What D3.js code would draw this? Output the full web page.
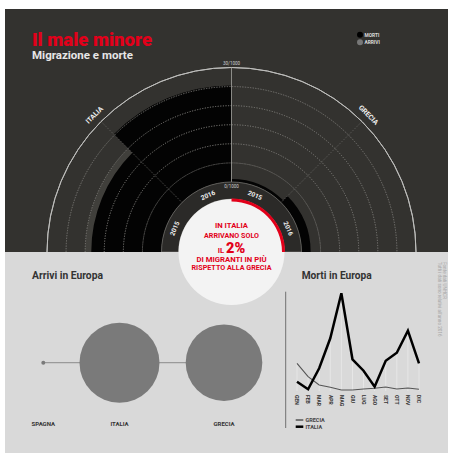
<!DOCTYPE html>
<html><head><meta charset="utf-8">
<script src="https://cdn.jsdelivr.net/npm/d3@7"></script>
<style>body{margin:0;background:#fff;} svg{display:block;font-family:Roboto,"Open Sans",sans-serif;}</style>
</head><body><svg id="c" width="449" height="455"></svg>
<script>
// ---------- DATA ----------
const polarCountries = ["ITALIA", "GRECIA"];
const polarYears = ["2015", "2016"];
const mortiItalia = [18.4, 25.3];   // morti per 1000
const mortiGrecia = [0.8, 2.4];
const arriviItalia = [20.0, 24.0];
const arriviGrecia = [0.4, 1.5];
const polarTicks = [5, 10, 15, 20, 25, 30];
const polarTickLabels = ["0/1000", "30/1000"];

const bubbleCountries = ["SPAGNA", "ITALIA", "GRECIA"];
const bubbleValues = [450, 181000, 166000];

const months = ["GEN","FEB","MAR","APR","MAG","GIU","LUG","AGO","SET","OTT","NOV","DIC"];
const deathsItalia = [93, 17, 227, 527, 977, 317, 203, 43, 303, 383, 603, 277];
const deathsGrecia = [277, 143, 60, 37, 10, 10, 20, 27, 40, 20, 30, 17];

const legendItems = ["MORTI", "ARRIVI"];
const centerText = ["IN ITALIA", "ARRIVANO SOLO", "IL", "2%", "DI MIGRANTI IN PIÙ", "RISPETTO ALLA GRECIA"];
const noteLines = ["Fonte dati UNHCR", "Tutti i dati sono relativi all'anno 2016"];

// ---------- DRAW ----------
const svg = d3.select("#c");
const RED = "#e2001a";
const DARK = "#33322f";
const LIGHT = "#d9d9d9";

svg.append("rect").attr("width", 449).attr("height", 455).attr("fill", "#fff");
svg.append("rect").attr("x", 5).attr("y", 9).attr("width", 443).attr("height", 243).attr("fill", DARK);
svg.append("rect").attr("x", 5).attr("y", 252).attr("width", 443).attr("height", 201).attr("fill", LIGHT);

// title
svg.append("text").attr("x", 32).attr("y", 45.5).text("Il male minore")
  .attr("font-size", 18).attr("font-weight", 900).attr("fill", RED)
  .attr("textLength", 120).attr("lengthAdjust", "spacingAndGlyphs");
svg.append("text").attr("x", 32).attr("y", 59).text("Migrazione e morte")
  .attr("font-size", 11.5).attr("font-weight", 700).attr("fill", "#e6e6e6")
  .attr("textLength", 101).attr("lengthAdjust", "spacingAndGlyphs");

// legend
const legColor = d3.scaleOrdinal().domain(legendItems).range(["#000", "#777"]);
const legY = d3.scalePoint().domain(legendItems).range([34.7, 42.3]);
const leg = svg.append("g");
leg.selectAll("circle").data(legendItems).join("circle")
  .attr("cx", 360).attr("cy", d => legY(d)).attr("r", 3).attr("fill", d => legColor(d));
leg.selectAll("text").data(legendItems).join("text")
  .attr("x", 364.5).attr("y", d => legY(d) + 1.8).text(d => d)
  .attr("font-size", 4.8).attr("font-weight", 700).attr("fill", "#ddd");

// ---------- POLAR ----------
const cx = 231.5, cy = 252;
const clip = svg.append("clipPath").attr("id", "top");
clip.append("rect").attr("x", -250).attr("y", -250).attr("width", 500).attr("height", 250);
const pg = svg.append("g").attr("transform", `translate(${cx},${cy})`);
const pc = pg.append("g").attr("clip-path", "url(#top)");

const r = d3.scaleLinear().domain([0, 30]).range([70, 184.5]);
const combos = [];
polarCountries.forEach((c, i) => polarYears.forEach((y, j) => combos.push({
  key: c + y, country: c, year: y,
  morti: (i === 0 ? mortiItalia : mortiGrecia)[j],
  arrivi: (i === 0 ? arriviItalia : arriviGrecia)[j]
})));
const ang = d3.scaleBand().domain(combos.map(d => d.key)).range([-Math.PI / 2, Math.PI / 2]);
const arc = d3.arc();

pc.selectAll("path.arr").data(combos).join("path").attr("class", "arr")
  .attr("d", d => arc({innerRadius: r(0), outerRadius: r(d.arrivi), startAngle: ang(d.key), endAngle: ang(d.key) + ang.bandwidth()}))
  .attr("fill", "#403f3b");
pc.selectAll("path.mor").data(combos).join("path").attr("class", "mor")
  .attr("d", d => arc({innerRadius: r(0), outerRadius: r(d.morti), startAngle: ang(d.key), endAngle: ang(d.key) + ang.bandwidth()}))
  .attr("fill", "#030303");

pc.selectAll("path.grid").data(polarTicks).join("path").attr("class", "grid")
  .attr("d", t => arc({innerRadius: r(t), outerRadius: r(t), startAngle: -Math.PI / 2, endAngle: Math.PI / 2}))
  .attr("fill", "none")
  .attr("stroke", t => t === 30 ? "#bdbdbb" : "#7c7b78")
  .attr("stroke-width", t => t === 30 ? 1 : 0.7)
  .attr("stroke-dasharray", t => t === 30 ? null : "1,1.6");

const radials = [-Math.PI / 4, 0, Math.PI / 4];
pc.selectAll("line.rad").data(radials).join("line").attr("class", "rad")
  .attr("x1", a => Math.sin(a) * r(0)).attr("y1", a => -Math.cos(a) * r(0))
  .attr("x2", a => Math.sin(a) * r(30)).attr("y2", a => -Math.cos(a) * r(30))
  .attr("stroke", a => a === 0 ? "#a5a4a1" : "#7c7b78")
  .attr("stroke-width", a => a === 0 ? 0.8 : 0.7)
  .attr("stroke-dasharray", a => a === 0 ? null : "1,1.6");

pc.append("path")
  .attr("d", arc({innerRadius: 53, outerRadius: r(0), startAngle: -Math.PI / 2, endAngle: Math.PI / 2}))
  .attr("fill", "#2b2a28").attr("stroke", "#6e6d6a").attr("stroke-width", 0.8);
pg.selectAll("text.yr").data(combos).join("text").attr("class", "yr")
  .attr("transform", d => `rotate(${(ang(d.key) + ang.bandwidth() / 2) * 180 / Math.PI}) translate(0,-61.5)`)
  .attr("text-anchor", "middle").attr("dy", "0.35em")
  .attr("font-size", 6.5).attr("font-weight", 700).attr("fill", "#f0f0f0").text(d => d.year);

pg.append("text").attr("x", 0).attr("y", -r(0) + 5.5).attr("text-anchor", "middle")
  .attr("font-size", 4.5).attr("fill", "#cfcfcf").text(polarTickLabels[0]);
pg.append("text").attr("x", 0).attr("y", -r(30) - 3).attr("text-anchor", "middle")
  .attr("font-size", 4.5).attr("fill", "#cfcfcf").text(polarTickLabels[1]);

const cAng = d3.scalePoint().domain(polarCountries).range([-45, 45]);
pg.selectAll("text.cty").data(polarCountries).join("text").attr("class", "cty")
  .attr("transform", d => `rotate(${cAng(d)}) translate(0,${-r(30) - 7})`)
  .attr("text-anchor", "middle").attr("font-size", 7).attr("font-weight", 700)
  .attr("fill", "#f0f0f0").text(d => d);

// ---------- BUBBLES ----------
const bx = d3.scaleOrdinal().domain(bubbleCountries).range([43.3, 119.5, 224]);
const br = d3.scaleSqrt().domain([0, d3.max(bubbleValues)]).range([0, 40]);
const by = 362.7;
svg.append("line").attr("x1", bx("SPAGNA")).attr("x2", bx("GRECIA")).attr("y1", by).attr("y2", by)
  .attr("stroke", "#9a9a9a").attr("stroke-width", 1.3);
svg.selectAll("circle.bub").data(bubbleCountries).join("circle").attr("class", "bub")
  .attr("cx", d => bx(d)).attr("cy", by)
  .attr("r", (d, i) => Math.max(br(bubbleValues[i]), 1.5)).attr("fill", "#7a7a7a");
svg.selectAll("text.bl").data(bubbleCountries).join("text").attr("class", "bl")
  .attr("x", d => bx(d)).attr("y", 425.5).attr("text-anchor", "middle")
  .attr("font-size", 6).attr("font-weight", 700).attr("fill", "#333").text(d => d);
svg.append("text").attr("x", 32).attr("y", 278.5).text("Arrivi in Europa")
  .attr("font-size", 10.5).attr("font-weight", 700).attr("fill", "#333")
  .attr("textLength", 71).attr("lengthAdjust", "spacingAndGlyphs");

// ---------- LINE CHART ----------
svg.append("text").attr("x", 301.7).attr("y", 278.5).text("Morti in Europa")
  .attr("font-size", 10.5).attr("font-weight", 700).attr("fill", "#333")
  .attr("textLength", 70).attr("lengthAdjust", "spacingAndGlyphs");
svg.append("line").attr("x1", 285.7).attr("x2", 285.7).attr("y1", 291.7).attr("y2", 428)
  .attr("stroke", "#707070").attr("stroke-width", 1);
const x = d3.scalePoint().domain(months).range([297, 419]);
const y = d3.scaleLinear().domain([0, 1000]).range([391, 291]);
svg.selectAll("line.vg").data(months).join("line").attr("class", "vg")
  .attr("x1", d => x(d)).attr("x2", d => x(d)).attr("y1", y(0))
  .attr("y2", (d, i) => y(Math.max(deathsItalia[i], deathsGrecia[i])))
  .attr("stroke", "#fff").attr("stroke-opacity", 0.6).attr("stroke-width", 0.6);
const line = d3.line().x((d, i) => x(months[i])).y(d => y(d));
svg.append("path").attr("d", line(deathsGrecia)).attr("fill", "none")
  .attr("stroke", "#555").attr("stroke-width", 1.1);
svg.append("path").attr("d", line(deathsItalia)).attr("fill", "none")
  .attr("stroke", "#000").attr("stroke-width", 2.5).attr("stroke-linejoin", "miter");
svg.selectAll("text.mo").data(months).join("text").attr("class", "mo")
  .attr("transform", d => `translate(${x(d)},395) rotate(90)`)
  .attr("dy", "0.35em").attr("font-size", 5).attr("font-weight", 700).attr("fill", "#333").text(d => d);
const lItems = [{n: "GRECIA", c: "#555", w: 1.5}, {n: "ITALIA", c: "#000", w: 2.5}];
const ly = d3.scalePoint().domain(lItems.map(d => d.n)).range([420, 426.7]);
svg.selectAll("line.lg").data(lItems).join("line").attr("class", "lg")
  .attr("x1", 295.7).attr("x2", 303.3).attr("y1", d => ly(d.n)).attr("y2", d => ly(d.n))
  .attr("stroke", d => d.c).attr("stroke-width", d => d.w);
svg.selectAll("text.lg").data(lItems).join("text").attr("class", "lg")
  .attr("x", 305.5).attr("y", d => ly(d.n) + 2).attr("font-size", 5.5).attr("font-weight", 700)
  .attr("fill", "#444").text(d => d.n);

svg.selectAll("text.note").data(noteLines).join("text").attr("class", "note")
  .attr("transform", (d, i) => `translate(${443 - i * 5.5},262) rotate(90)`)
  .attr("font-size", 4.6).attr("fill", "#a8a8a8").text(d => d);

// ---------- CENTER DISK ----------
const cg = svg.append("g").attr("transform", `translate(${cx},${cy})`);
cg.append("circle").attr("r", 53).attr("fill", "#f3f3f3");
cg.append("path").attr("d", arc({innerRadius: 50.5, outerRadius: 53.5, startAngle: 0, endAngle: Math.PI / 2}))
  .attr("fill", RED);
const tt = cg.append("g").attr("fill", RED).attr("font-weight", 700).attr("text-anchor", "middle");
tt.append("text").attr("y", -24.5).attr("font-size", 7.6).text(centerText[0])
  .attr("textLength", 33).attr("lengthAdjust", "spacingAndGlyphs");
tt.append("text").attr("y", -13.7).attr("font-size", 7.6).text(centerText[1])
  .attr("textLength", 55).attr("lengthAdjust", "spacingAndGlyphs");
const il = tt.append("text").attr("y", 0.8);
il.append("tspan").attr("font-size", 7.6).text(centerText[2] + " ");
il.append("tspan").attr("font-size", 14.5).attr("font-weight", 900).text(centerText[3]);
tt.append("text").attr("y", 10.3).attr("font-size", 7.6).text(centerText[4])
  .attr("textLength", 70).attr("lengthAdjust", "spacingAndGlyphs");
tt.append("text").attr("y", 18.3).attr("font-size", 7.6).text(centerText[5])
  .attr("textLength", 80).attr("lengthAdjust", "spacingAndGlyphs");
</script></body></html>
